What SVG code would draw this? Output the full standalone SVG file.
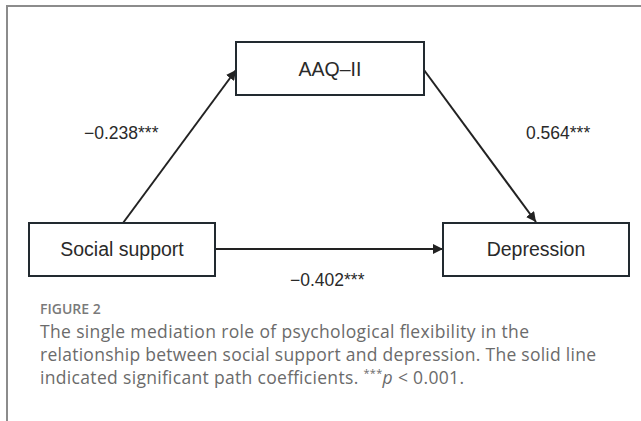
<svg xmlns="http://www.w3.org/2000/svg" width="641" height="421" viewBox="0 0 641 421">
<style>
.box{fill:#fff;stroke:#222a30;stroke-width:2}
.nt{font-family:"Liberation Sans",Arial,sans-serif;font-size:19.5px;fill:#2a2a2a;text-anchor:middle}
.lb{font-family:"Liberation Sans",Arial,sans-serif;font-size:17.5px;fill:#2a2a2a}
.ed{stroke:#222;stroke-width:2;fill:none;marker-end:url(#ah)}
.cap{font-family:"Open Sans","Noto Sans",sans-serif;font-size:17.5px;fill:#6b6b6b}
.fig{font-family:"Open Sans","Noto Sans",sans-serif;font-size:14px;font-weight:600;fill:#7a7a7a}
</style>
<defs>
<marker id="ah" viewBox="0 0 10 10" refX="10" refY="5" markerWidth="10" markerHeight="10" markerUnits="userSpaceOnUse" orient="auto">
<path d="M0,0 L10,5 L0,10 Z" fill="#222"/>
</marker>
</defs>
<rect width="641" height="421" fill="#fff"/>
<path d="M7,421 V6 H641" fill="none" stroke="#8c8c8c" stroke-width="2"/>
<g id="connectors">
<line class="ed" x1="123" y1="223" x2="236" y2="70"/>
<line class="ed" x1="424" y1="70" x2="536" y2="222"/>
<line class="ed" x1="215" y1="249" x2="443" y2="249"/>
<text class="lb" x="84" y="139">−0.238***</text>
<text class="lb" x="526" y="139">0.564***</text>
<text class="lb" x="290" y="286">−0.402***</text>
</g>
<g id="aaq">
<rect class="box" x="236" y="42" width="188" height="53"/>
<text class="nt" x="330" y="76">AAQ–II</text>
</g>
<g id="social">
<rect class="box" x="29" y="223" width="186" height="53"/>
<text class="nt" x="122" y="256">Social support</text>
</g>
<g id="depression">
<rect class="box" x="443" y="223" width="186" height="53"/>
<text class="nt" x="536" y="256">Depression</text>
</g>
<g id="caption">
<text class="fig" x="40" y="314">FIGURE 2</text>
<text class="cap" x="40" y="338" textLength="489" lengthAdjust="spacing">The single mediation role of psychological flexibility in the</text>
<text class="cap" x="40" y="361" textLength="556" lengthAdjust="spacing">relationship between social support and depression. The solid line</text>
<text class="cap" x="40" y="384" textLength="424" lengthAdjust="spacing">indicated significant path coefficients. <tspan font-size="11" dy="-7">***</tspan><tspan font-style="italic" dy="7">p</tspan> &lt; 0.001.</text>
</g>
</svg>
